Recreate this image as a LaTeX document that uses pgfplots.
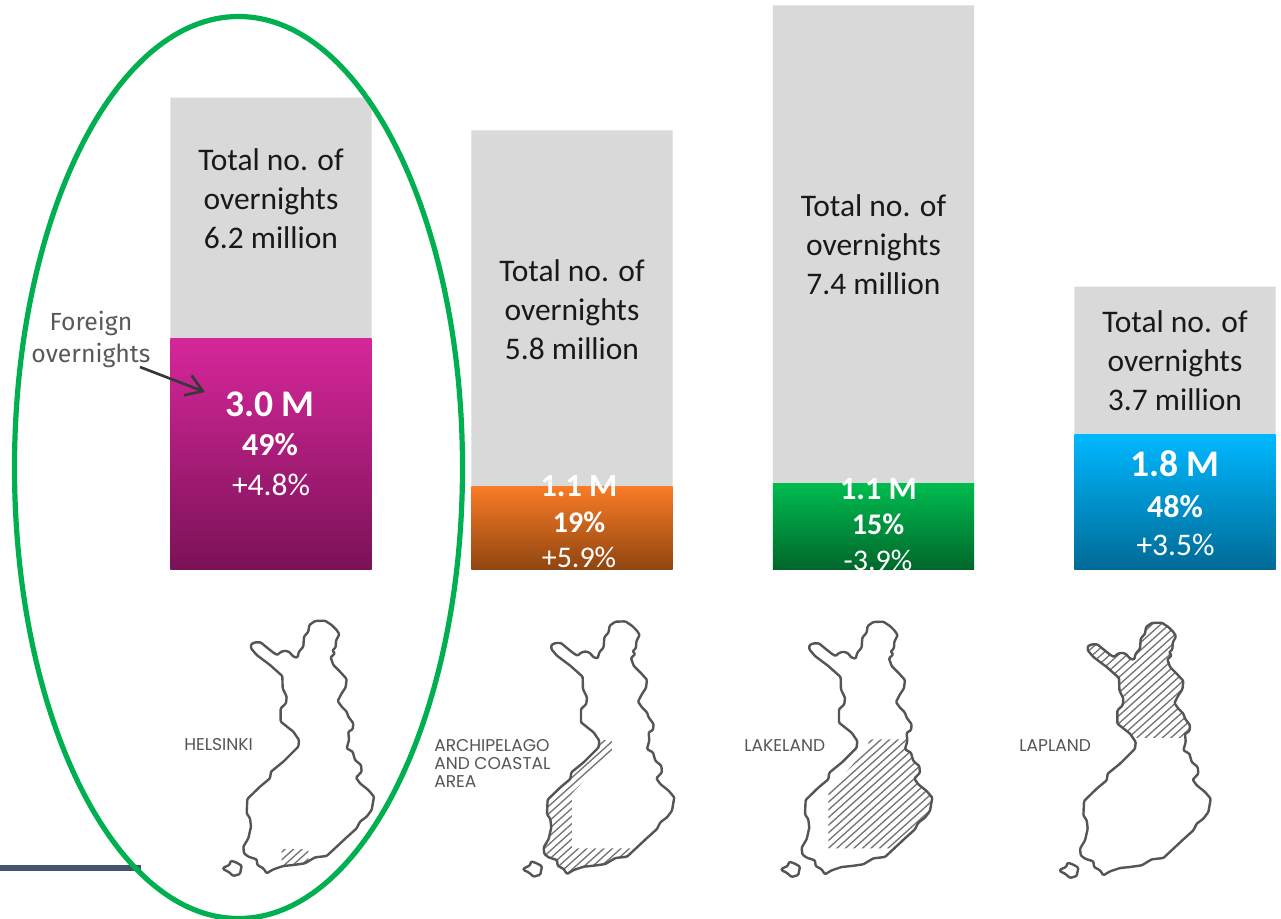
\documentclass[border=0pt]{standalone}
\usepackage{pgfplots}
\pgfplotsset{compat=1.18}
\usetikzlibrary{arrows.meta}
\usepackage{fontspec}
\setmainfont{Carlito}
\newfontfamily\foreignfont{Fira Sans}
\newfontfamily\labelfont{Poppins}
\definecolor{barGray}{HTML}{D9D9D9}
\definecolor{ringGreen}{HTML}{00B050}
\definecolor{mapLine}{HTML}{555555}
\definecolor{hatchLine}{HTML}{747474}
\def\OutlinePath{(243,133) -- (255,127) -- (272,127) -- (290,142) -- (310,158) -- (322,165) -- (332,156) -- (345,152) -- (358,156) -- (370,170) -- (382,173) -- (387,155) -- (400,140) -- (402,110) -- (415,95) -- (418,75) -- (435,63) -- (465,62) -- (485,75) -- (500,90) -- (508,103) -- (498,122) -- (497,142) -- (487,152) -- (495,160) -- (482,172) -- (490,195) -- (510,215) -- (530,237) -- (527,262) -- (515,280) -- (503,303) -- (515,320) -- (530,335) -- (535,350) -- (550,370) -- (548,388) -- (535,395) -- (537,420) -- (530,445) -- (548,455) -- (555,480) -- (573,495) -- (575,515) -- (558,533) -- (570,550) -- (595,570) -- (612,590) -- (605,630) -- (590,650) -- (570,665) -- (560,685) -- (530,712) -- (470,768) -- (435,772) -- (405,790) -- (370,795) -- (340,798) -- (310,808) -- (290,820) -- (280,805) -- (262,795) -- (260,778) -- (235,770) -- (222,760) -- (220,740) -- (235,715) -- (243,680) -- (240,655) -- (230,640) -- (232,597) -- (270,560) -- (300,535) -- (303,515) -- (340,485) -- (385,440) -- (387,420) -- (370,395) -- (332,365) -- (332,325) -- (348,310) -- (350,290) -- (338,265) -- (337,228) -- (300,195) -- (260,165) -- (243,145) -- cycle}
\def\IslandPath{(160,803) -- (178,795) -- (183,782) -- (200,788) -- (215,797) -- (210,822) -- (190,828) -- (175,815) -- (160,808) -- cycle}
% #1 dx, #2 dy, #3 hatch polygon
\newcommand\finmap[3]{%
  \begin{scope}[shift={(170+#1,600+#2)},x=0.25pt,y=-0.25pt]
    \begin{scope}
      \clip \OutlinePath;
      \clip #3;
      \foreach \c in {0,23,...,1400}{
        \draw[line width=1pt,color=hatchLine] (0,\c) -- (800,\c-720);
      }
    \end{scope}
    \draw[line width=1.8pt,color=mapLine,rounded corners=0.8pt,line join=round] \OutlinePath;
    \draw[line width=1.8pt,color=mapLine,rounded corners=0.8pt,line join=round] \IslandPath;
  \end{scope}}
\begin{document}
\begin{tikzpicture}
\clip (0,0) rectangle (960.75pt,688.5pt);
\begin{axis}[
  at={(0,0)},anchor=south west,
  scale only axis,width=960.75pt,height=688.5pt,
  hide axis,
  xmin=0,xmax=1281,ymin=-4.567,ymax=7.480,
  ybar,bar width=151pt,bar shift=0pt,
]
\addplot[draw=none,fill=barGray] coordinates {(271,6.2) (572,5.77) (873.5,7.41) (1175,3.72)};
\addplot[draw=none,top color={rgb,255:red,214;green,39;blue,154},bottom color={rgb,255:red,122;green,18;blue,87}] coordinates {(271,3.04)};
\addplot[draw=none,top color={rgb,255:red,249;green,123;blue,38},bottom color={rgb,255:red,143;green,69;blue,16}] coordinates {(572,1.10)};
\addplot[draw=none,top color={rgb,255:red,0;green,188;blue,79},bottom color={rgb,255:red,0;green,102;blue,43}] coordinates {(873.5,1.14)};
\addplot[draw=none,top color={rgb,255:red,0;green,184;blue,255},bottom color={rgb,255:red,0;green,106;blue,150}] coordinates {(1175,1.78)};
\end{axis}
\begin{scope}[shift={(0,688.5pt)},x=0.75pt,y=-0.75pt]
  \def\tot#1#2#3{%
    \node[anchor=base,font=\fontsize{23.6}{26}\selectfont,text=black!90] at (#1,#2+10.5) {Total no. of};
    \node[anchor=base,font=\fontsize{23.6}{26}\selectfont,text=black!90] at (#1,#2+49.5) {overnights};
    \node[anchor=base,font=\fontsize{23.6}{26}\selectfont,text=black!90] at (#1,#2+88.5) {#3 million};}
  \tot{271}{160}{6.2}
  \tot{572}{271}{5.8}
  \tot{873.5}{206}{7.4}
  \tot{1175}{322}{3.7}
  \def\valA#1#2#3#4{\node[anchor=base,text=white,font=\bfseries\fontsize{#4}{30}\selectfont] at (#1,#2+12.5) {#3};}
  \def\valB#1#2#3#4{\node[anchor=base,text=white,font=\bfseries\fontsize{#4}{30}\selectfont] at (#1,#2+10) {#3};}
  \def\valC#1#2#3#4{\node[anchor=base,text=white,font=\fontsize{#4}{30}\selectfont] at (#1,#2+10) {#3};}
  \valA{270}{404}{3.0 M}{28.2}\valB{270}{446}{49\%}{24}\valC{271}{486}{+4.8\%}{23.6}
  \valA{579}{484}{1.1 M}{24.2}\valB{579}{522.5}{19\%}{22.5}\valC{579}{558}{+5.9\%}{22.5}
  \valA{878.5}{487}{1.1 M}{24.2}\valB{878}{524.5}{15\%}{22.5}\valC{878}{561}{-3.9\%}{22.5}
  \valA{1175}{464}{1.8 M}{28.2}\valB{1175}{507.5}{48\%}{24}\valC{1175.5}{546}{+3.5\%}{23.6}
  \fill[white] (465,570) rectangle (980,585);
  \finmap{0}{0}{(335,747) rectangle (415,805)}
  \finmap{300.3}{0.7}{(390,418) -- (425,418) -- (425,453) -- (305,578) -- (305,743) -- (485,743) -- (485,830) -- (210,830) -- (210,418) -- cycle}
  \finmap{558.3}{1}{(300,742) -- (300,575) -- (420,437) -- (420,415) -- (625,415) -- (625,742) -- cycle}
  \finmap{836.7}{2}{(200,40) rectangle (620,405)}
  \def\lab#1#2#3{\node[anchor=base west,inner sep=0pt,text=mapLine,font=\labelfont\fontsize{12.8}{14}\selectfont] at (#1,#2) {#3};}
  \lab{184}{750}{HELSINKI}
  \lab{434}{751}{ARCHIPELAGO}
  \lab{434}{769}{AND COASTAL}
  \lab{434}{787}{AREA}
  \lab{744}{751}{LAKELAND}
  \lab{1019}{751}{LAPLAND}
  \node[anchor=base,text=black!65,font=\foreignfont\fontsize{18.6}{22}\selectfont] at (91,331) {Foreign};
  \node[anchor=base,text=black!65,font=\foreignfont\fontsize{18.6}{22}\selectfont] at (91,363) {overnights};
  \draw[line width=2pt,color=black!78,-{Straight Barb[length=12pt,width=16pt]}] (140,367) -- (205,392);
  \draw[line width=3.9pt,color={rgb,255:red,68;green,84;blue,106}] (0,868) -- (141,868);
  \draw[line width=3.9pt,color=ringGreen] (238.5,467.5) ellipse [x radius=224,y radius=451];
\end{scope}
\end{tikzpicture}
\end{document}
